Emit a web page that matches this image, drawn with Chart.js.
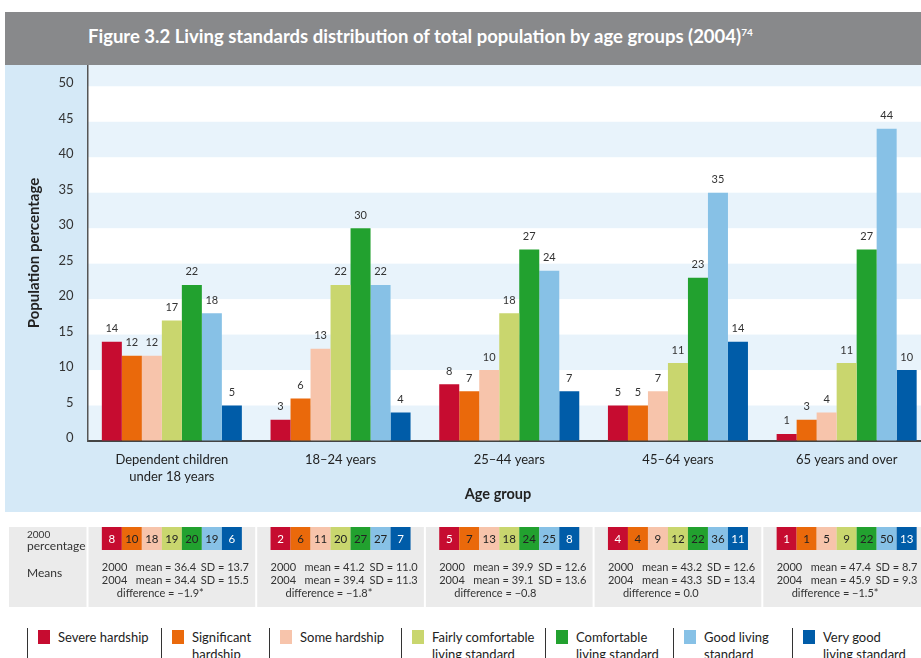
<!DOCTYPE html>
<html>
<head>
<meta charset="utf-8">
<title>Living standards distribution by age group</title>
<script src="https://cdn.jsdelivr.net/npm/chart.js@4.4.1/dist/chart.umd.min.js"></script>
<style>
  html, body { margin: 0; padding: 0; background: #fff; }
  #page { position: relative; width: 921px; height: 658px; overflow: hidden; font-family: Lato, 'Open Sans', sans-serif; color: #222; }
  #title { position: absolute; left: 5px; top: 12px; width: 916px; height: 53px; background: #88898b; }
  #title span { position: absolute; left: 83px; top: 13px; font-weight: bold; font-size: 18.5px; color: #fff; white-space: nowrap; }
  #title sup { font-size: 10px; }
  #chartBox { position: absolute; left: 0; top: 65px; width: 931px; height: 547px; }
  #xTitle { position: absolute; left: 398px; width: 200px; top: 485px; text-align: center; font-weight: bold; font-size: 14.5px; }
  .leg { position: absolute; top: 628px; height: 30px; border-left: 1px solid #333; font-size: 13px; line-height: 17px; }
  .leg i { position: absolute; left: 10px; top: 2px; width: 12px; height: 14px; }
  .leg span { position: absolute; left: 30px; top: 1px; white-space: nowrap; }
</style>
</head>
<body>
<div id="page">
  <div id="title"><span>Figure 3.2 Living standards distribution of total population by age groups (2004)<sup>74</sup></span></div>
  <div id="chartBox"><canvas id="livingChart"></canvas></div>
  <div id="xTitle">Age group</div>
  <div id="legend"></div>
</div>
<script>
// categories
var ageGroups = [['Dependent children', 'under 18 years'], '18–24 years', '25–44 years', '45–64 years', '65 years and over'];
var seriesLabels = [
    ['Severe hardship'],
    ['Significant', 'hardship'],
    ['Some hardship'],
    ['Fairly comfortable', 'living  standard'],
    ['Comfortable', 'living standard'],
    ['Good living', 'standard'],
    ['Very good', 'living standard']
];

// 2004 percentages, one array per living standard
var severe2004      = [14, 3, 8, 5, 1];
var significant2004 = [12, 6, 7, 5, 3];
var some2004        = [12, 13, 10, 7, 4];
var fairly2004      = [17, 22, 18, 11, 11];
var comfortable2004 = [22, 30, 27, 23, 27];
var good2004        = [18, 22, 24, 35, 44];
var veryGood2004    = [5, 4, 7, 14, 10];

// 2000 percentages (table row)
var severe2000      = [8, 2, 5, 4, 1];
var significant2000 = [10, 6, 7, 4, 1];
var some2000        = [18, 11, 13, 9, 5];
var fairly2000      = [19, 20, 18, 12, 9];
var comfortable2000 = [20, 27, 24, 22, 22];
var good2000        = [19, 27, 25, 36, 50];
var veryGood2000    = [6, 7, 8, 11, 13];

// means table
var mean2000 = [36.4, 41.2, 39.9, 43.2, 47.4];
var sd2000   = [13.7, 11.0, 12.6, 12.6, 8.7];
var mean2004 = [34.4, 39.4, 39.1, 43.3, 45.9];
var sd2004   = [15.5, 11.3, 13.6, 13.4, 9.3];
var meanDiff = [-1.9, -1.8, -0.8, 0.0, -1.5];
var diffSignificant = [true, true, false, false, true];

var yTicks = { min: 0, max: 53, step: 5 };

var colors = ['#c60c30', '#ea690b', '#f7c4ab', '#c9d66e', '#22a12f', '#87c1e6', '#005ca8'];
var cellText = ['#fff', '#222', '#222', '#222', '#222', '#222', '#fff'];
var legendX = [27, 161, 269, 401, 545, 673, 792];

var values2004 = [severe2004, significant2004, some2004, fairly2004, comfortable2004, good2004, veryGood2004];
var values2000 = [severe2000, significant2000, some2000, fairly2000, comfortable2000, good2000, veryGood2000];

function fmt(v) {
    return v.toFixed(1).replace('-', '−');
}

// light blue panel, white plot area and alternating bands
var backdrop = {
    id: 'backdrop',
    beforeDraw: function (chart) {
        var ctx = chart.ctx, a = chart.chartArea, y = chart.scales.y, x = chart.scales.x;
        ctx.save();
        ctx.fillStyle = '#d5e9f7';
        ctx.fillRect(5, 0, chart.width - 5, x.bottom);
        ctx.fillStyle = '#ffffff';
        ctx.fillRect(a.left, a.top, a.right - a.left, a.bottom - a.top);
        ctx.fillStyle = '#e8f3fb';
        for (var v = y.min; v < y.max; v += 10) {
            var top = y.getPixelForValue(Math.min(v + 5, y.max));
            var bottom = y.getPixelForValue(v);
            ctx.fillRect(a.left, top, a.right - a.left, bottom - top);
        }
        ctx.restore();
    }
};

// numbers above each bar
var barValues = {
    id: 'barValues',
    afterDatasetsDraw: function (chart) {
        var ctx = chart.ctx;
        ctx.save();
        ctx.font = '11px Lato, sans-serif';
        ctx.fillStyle = '#333';
        ctx.textAlign = 'center';
        ctx.textBaseline = 'middle';
        chart.data.datasets.forEach(function (ds, di) {
            chart.getDatasetMeta(di).data.forEach(function (bar, i) {
                ctx.fillText(String(ds.data[i]), bar.x, bar.y - 13);
            });
        });
        ctx.restore();
    }
};

// 2000 percentages and means under the chart
var summaryTable = {
    id: 'summaryTable',
    afterDraw: function (chart) {
        var ctx = chart.ctx, x = chart.scales.x, a = chart.chartArea;
        var top = x.bottom + 15, h = 80;
        var catW = (a.right - a.left) / ageGroups.length;
        ctx.save();
        ctx.fillStyle = '#ebebeb';
        ctx.fillRect(9, top, a.left - 10, h);
        for (var i = 0; i < ageGroups.length; i++) {
            var cl = x.getPixelForValue(i) - catW / 2;
            ctx.fillRect(cl + 1, top, catW - 2, h);
        }

        ctx.fillStyle = '#333';
        ctx.textBaseline = 'middle';
        ctx.textAlign = 'left';
        ctx.font = '10px Lato, sans-serif';
        ctx.fillText('2000', 27, top + 8);
        ctx.font = '12px Lato, sans-serif';
        ctx.fillText('percentage', 27, top + 19);
        ctx.fillText('Means', 27, top + 46);

        chart.data.datasets.forEach(function (ds, di) {
            chart.getDatasetMeta(di).data.forEach(function (bar, i) {
                var l = bar.x - bar.width / 2;
                ctx.fillStyle = colors[di];
                ctx.fillRect(l, top, bar.width, 23);
                ctx.fillStyle = cellText[di];
                ctx.textAlign = 'center';
                ctx.font = '11.5px Lato, sans-serif';
                ctx.fillText(String(values2000[di][i]), bar.x, top + 12);
            });
        });

        var first = chart.getDatasetMeta(0).data;
        ctx.fillStyle = '#333';
        ctx.textAlign = 'left';
        ctx.font = '11px Lato, sans-serif';
        for (var g = 0; g < ageGroups.length; g++) {
            var left = first[g].x - first[g].width / 2;
            ctx.fillText('2000', left, top + 40);
            ctx.fillText('mean = ' + fmt(mean2000[g]), left + 34, top + 40);
            ctx.fillText('SD = ' + fmt(sd2000[g]), left + 99, top + 40);
            ctx.fillText('2004', left, top + 53);
            ctx.fillText('mean = ' + fmt(mean2004[g]), left + 34, top + 53);
            ctx.fillText('SD = ' + fmt(sd2004[g]), left + 99, top + 53);
            ctx.fillText('difference = ' + fmt(meanDiff[g]) + (diffSignificant[g] ? '*' : ''), left + 15, top + 66);
        }
        ctx.restore();
    }
};

var legendEl = document.getElementById('legend');
seriesLabels.forEach(function (lines, i) {
    var item = document.createElement('div');
    item.className = 'leg';
    item.style.left = legendX[i] + 'px';
    item.innerHTML = '<i style="background:' + colors[i] + '"></i><span>' + lines.join('<br>') + '</span>';
    legendEl.appendChild(item);
});

new Chart(document.getElementById('livingChart'), {
    type: 'bar',
    data: {
        labels: ageGroups,
        datasets: values2004.map(function (vals, i) {
            return {
                label: seriesLabels[i].join(' '),
                data: vals,
                backgroundColor: colors[i],
                borderWidth: 0,
                categoryPercentage: 0.83,
                barPercentage: 1.0
            };
        })
    },
    options: {
        responsive: true,
        maintainAspectRatio: false,
        animation: false,
        layout: { padding: { left: 5, top: 0, right: 0, bottom: 100 } },
        plugins: {
            legend: { display: false },
            tooltip: { enabled: false }
        },
        scales: {
            x: {
                grid: { color: 'transparent', drawTicks: false },
                border: { color: '#444', width: 2 },
                ticks: {
                    color: '#222',
                    font: { family: 'Lato', size: 13, lineHeight: 1.25 },
                    padding: 11,
                    maxRotation: 0,
                    autoSkip: false
                },
                afterFit: function (scale) {
                    scale.height = 71;
                    scale.paddingLeft = 0;
                    scale.paddingRight = 0;
                }
            },
            y: {
                min: yTicks.min,
                max: yTicks.max,
                grid: { color: 'transparent', drawTicks: false },
                border: { color: '#555', width: 1.5 },
                ticks: {
                    stepSize: yTicks.step,
                    includeBounds: false,
                    color: '#333',
                    padding: 14,
                    labelOffset: -3,
                    font: { family: 'Lato', size: 13 }
                },
                title: {
                    display: true,
                    text: 'Population percentage',
                    color: '#222',
                    font: { family: 'Lato', size: 15, weight: 'bold' },
                    padding: { top: 20, bottom: 0 }
                },
                afterFit: function (scale) {
                    scale.width = 82.5;
                    scale.paddingTop = 0;
                    scale.paddingBottom = 0;
                }
            }
        }
    },
    plugins: [backdrop, barValues, summaryTable]
});
</script>
</body>
</html>
